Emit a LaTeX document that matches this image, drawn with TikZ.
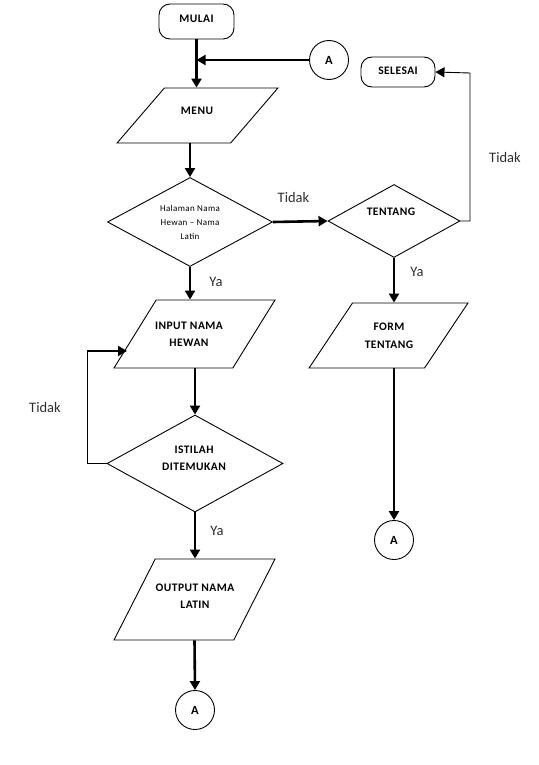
\documentclass[tikz,border=0pt]{standalone}
\usepackage{fontspec}
\setmainfont{Carlito}
\newfontfamily\boxfont[LetterSpace=4]{Carlito}
\usetikzlibrary{shapes.geometric,arrows.meta}
\tikzset{
  thin line/.style={line width=0.9pt},
  thick line/.style={line width=2.6pt},
  arr/.style={thick line,-{Triangle[length=9pt,width=10pt]}},
  terminal/.style={draw,thin line,rounded corners=11pt,inner sep=0pt},
  connector/.style={draw,thin line,circle,minimum size=39pt,inner sep=0pt,font=\boxfont\bfseries\fontsize{12.5}{14}\selectfont},
  iobox/.style={draw,thin line,trapezium,trapezium left angle=#1,trapezium right angle={180-#1},trapezium stretches=true,inner sep=0pt},
  decision/.style={draw,thin line,diamond,inner sep=0pt},
  txt/.style={inner sep=0pt,align=center,font=\boxfont\bfseries\fontsize{11.5}{17.5}\selectfont},
  smalltxt/.style={inner sep=0pt,align=center,font=\boxfont\fontsize{9}{14}\selectfont},
  lbl/.style={text=black!82,font=\fontsize{14.5}{16}\selectfont,inner sep=0pt},
}
\begin{document}
\begin{tikzpicture}[x=1pt,y=-1pt]
\useasboundingbox (0,0) rectangle (538,765);
% shapes
\node[terminal,minimum width=75pt,minimum height=35pt] (mulai) at (196.5,21.5) {\phantom{X}};
\node[connector] (a1) at (329,60) {A};
\node[iobox=60,minimum width=161pt,minimum height=55pt] (menu) at (197.5,115.5) {\phantom{X}};
\node[decision,minimum width=165pt,minimum height=89pt] (d1) at (190,222) {\phantom{X}};
\node[decision,minimum width=132pt,minimum height=73pt] (d2) at (394,221) {\phantom{X}};
\node[terminal,minimum width=74pt,minimum height=30pt] (selesai) at (398,72) {\phantom{X}};
\node[iobox=64,minimum width=159pt,minimum height=65pt] (form) at (388.5,335.5) {\phantom{X}};
\node[connector] (a2) at (394,540) {A};
\node[iobox=66,minimum width=161pt,minimum height=68pt] (input) at (194.5,334) {\phantom{X}};
\node[decision,minimum width=176pt,minimum height=97pt] (d3) at (195,463.5) {\phantom{X}};
\node[iobox=67,minimum width=161pt,minimum height=81pt] (output) at (194.5,599.5) {\phantom{X}};
\node[connector] (a3) at (195,710) {A};
% texts
\node[txt] (mulaitxt) at (196.5,18.5) {MULAI};
\node[txt] (menutxt) at (197,110.5) {MENU};
\node[smalltxt] (d1txt) at (190,222) {Halaman Nama\\Hewan – Nama\\Latin};
\node[txt] (d2txt) at (391,212) {TENTANG};
\node[txt] (selesaitxt) at (398,71) {SELESAI};
\node[txt] (formtxt) at (389,336) {FORM\\TENTANG};
\node[txt] (inputtxt) at (189,334.5) {INPUT NAMA\\HEWAN};
\node[txt] (d3txt) at (194,458.5) {ISTILAH\\DITEMUKAN};
\node[txt] (outputtxt) at (195,596) {OUTPUT NAMA\\LATIN};
% helper coordinates
\coordinate (j1) at (mulai.south |- a1.west);
\coordinate (r1) at (470,221);
\coordinate (r2) at (470,73);
\coordinate (l1) at (87,463.5);
\coordinate (l2) at (87,351);
\coordinate (l3) at (127,351);
% connectors
\draw[arr] (mulai.south) -- (mulai.south |- menu.north);
\draw[arr] (a1.west) -- (j1);
\draw[arr] (d1.north |- menu.south) -- (d1.north);
\draw[arr] (d1.south) -- (d1.south |- input.north);
\draw[arr] (d1.east) -- (d2.west);
\draw[thin line,-{Triangle[length=9pt,width=10pt]}] (d2.east) -- (r1) -- (r2) -- (selesai.east);
\draw[arr] (d2.south) -- (d2.south |- form.north);
\draw[arr] (a2.north |- form.south) -- (a2.north);
\draw[arr] (d3.north |- input.south) -- (d3.north);
\draw[thin line] (d3.west) -- (l1) -- (l2);
\draw[arr] (l2) -- (l3);
\draw[arr] (d3.south) -- (d3.south |- output.north);
\draw[arr] (output.south) -- (a3.north);
% labels
\node[lbl] (t1) at (293.5,198) {Tidak};
\node[lbl] (t2) at (505,158) {Tidak};
\node[lbl] (t3) at (45,408) {Tidak};
\node[lbl] (y1) at (216,282) {Ya};
\node[lbl] (y2) at (417,272) {Ya};
\node[lbl] (y3) at (217,531) {Ya};
\end{tikzpicture}
\end{document}
